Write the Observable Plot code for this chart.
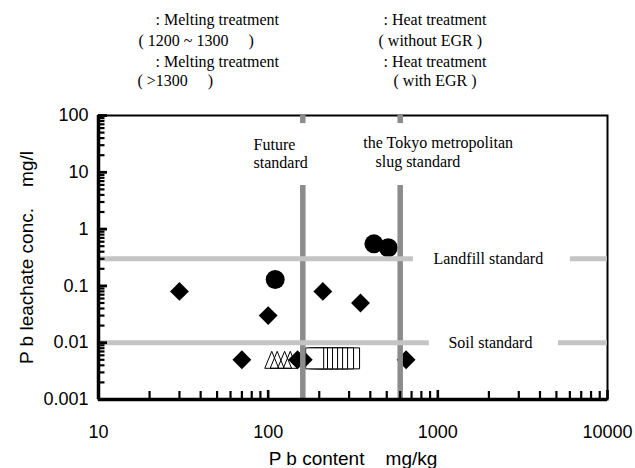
<!DOCTYPE html>
<html>
<head>
<meta charset="utf-8">
<script src="https://cdn.jsdelivr.net/npm/d3@7"></script>
<script src="https://cdn.jsdelivr.net/npm/@observablehq/plot@0.6"></script>
<style>
  html, body { margin: 0; padding: 0; background: #fff; }
  svg { display: block; }
</style>
</head>
<body>
<div id="chart"></div>
<script>
// ---- data ----
const diamondX = [30, 100, 70, 210, 350, 650, 149, 161];
const diamondY = [0.08, 0.03, 0.005, 0.08, 0.05, 0.005, 0.005, 0.005];
const circleX = [110, 420, 510];
const circleY = [0.13, 0.55, 0.47];
const triangleX = [105, 113, 125, 135];
const triangleY = [0.005, 0.005, 0.005, 0.005];
const squareX = [188, 198, 212, 227, 243, 260, 282, 306];
const squareY = [0.0053, 0.0053, 0.0053, 0.0053, 0.0053, 0.0053, 0.0053, 0.0053];

// standards
const futureStd = 160;
const tokyoStd = 600;
const landfillStd = 0.3;
const soilStd = 0.01;

// tick values and labels
const xMajor = [10, 100, 1000, 10000];
const xLabels = ["10", "100", "1000", "10000"];
const yMajor = [0.001, 0.01, 0.1, 1, 10, 100];
const yLabels = ["0.001", "0.01", "0.1", "1", "10", "100"];
const minorOf = (decades) => decades.flatMap(d => [2,3,4,5,6,7,8,9].map(k => +(k * d).toPrecision(3)));
const xMinor = minorOf([10, 100, 1000]);
const yMinor = minorOf([0.001, 0.01, 0.1, 1, 10]);

// texts
const xTitle = "P b content\u00a0\u00a0\u00a0\u00a0mg/kg";
const yTitle = "P b leachate conc.\u00a0\u00a0\u00a0\u00a0mg/l";
const legendTexts = [
  ": Melting treatment", "( 1200 ~ 1300\u00a0\u00a0\u00a0\u00a0\u00a0)",
  ": Melting treatment", "( >1300\u00a0\u00a0\u00a0\u00a0\u00a0)",
  ": Heat treatment", "( without EGR )",
  ": Heat treatment", "( with EGR )"
];
const annotationTexts = ["Future", "standard", "the Tokyo metropolitan", "slug standard", "Landfill standard", "Soil standard"];

// ---- layout (positions kept apart from the data) ----
const W = 635, H = 468;
const M = {top: 115, right: 28, bottom: 69, left: 98};
const xDomain = [10, 10000], yDomain = [0.001, 100];
const legendPos = [
  [155, 19], [138, 40], [155, 61], [137, 80],
  [383, 19], [378, 40], [383, 61], [393, 80]
];
const annotationPos = [
  [82, 30.9], [82, 14.9], [364, 33.5], [429, 15.5], [942, landfillStd], [1155, soilStd]
];
// gaps left in the standard lines for their labels
const vSegs = [
  {x: futureStd, y1: 0.001, y2: 5.86}, {x: futureStd, y1: 72, y2: 100},
  {x: tokyoStd, y1: 0.001, y2: 5.86}, {x: tokyoStd, y1: 72, y2: 100}
];
const hSegs = [
  {y: landfillStd, x1: 10, x2: 718}, {y: landfillStd, x1: 6040, x2: 10000},
  {y: soilStd, x1: 10, x2: 891}, {y: soilStd, x1: 5140, x2: 10000}
];

// standalone copies of the plot's scales, used to give the inward ticks a fixed pixel length
const xs = Plot.scale({x: {type: "log", domain: xDomain, range: [M.left, W - M.right]}});
const ys = Plot.scale({y: {type: "log", domain: yDomain, range: [H - M.bottom, M.top]}});
const yTickEnd = (px) => xs.invert(M.left + px);
const xTickEnd = (px) => ys.invert(H - M.bottom - px);

const zip = (xa, ya) => xa.map((x, i) => ({x, y: ya[i]}));
const diamonds = zip(diamondX, diamondY);
const circles = zip(circleX, circleY);
const triangles = zip(triangleX, triangleY);
const squares = zip(squareX, squareY).reverse();

const triSym = {draw(ctx) { ctx.moveTo(0, -8.5); ctx.lineTo(7, 8.5); ctx.lineTo(-7, 8.5); ctx.closePath(); }};
const rectSym = {draw(ctx) { ctx.rect(-9, -10.5, 18, 21); }};

const SERIF = "'Liberation Serif', 'Times New Roman', serif";
const SANS = "'Liberation Sans', Arial, sans-serif";

const legendMarks = legendTexts.map((t, i) => Plot.text([t], {
  frameAnchor: "top-left", dx: legendPos[i][0] - M.left, dy: legendPos[i][1] - M.top,
  textAnchor: "start", lineAnchor: "middle", fontFamily: SERIF, fontSize: 16, fill: "black"
}));

const chart = Plot.plot({
  width: W, height: H,
  marginTop: M.top, marginRight: M.right, marginBottom: M.bottom, marginLeft: M.left,
  style: {fontFamily: SANS, fontSize: "18px", color: "black", background: "white", overflow: "visible"},
  x: {type: "log", domain: xDomain},
  y: {type: "log", domain: yDomain},
  marks: [
    Plot.frame({stroke: "black", strokeWidth: 2}),
    // tick labels
    Plot.axisY(yMajor, {tickSize: 0, tickPadding: 10, tickFormat: d => yLabels[yMajor.indexOf(d)], fontSize: 18, label: null}),
    Plot.axisX(xMajor, {tickSize: 0, tickPadding: 26, tickFormat: d => xLabels[xMajor.indexOf(d)], fontSize: 18, label: null}),
    // data
    Plot.dot(squares, {x: "x", y: "y", symbol: rectSym, fill: "white", stroke: "black", strokeWidth: 1}),
    Plot.dot(triangles, {x: "x", y: "y", symbol: triSym, fill: "none", stroke: "black", strokeWidth: 1}),
    Plot.dot(diamonds, {x: "x", y: "y", symbol: "diamond2", r: 8.5, fill: "black", stroke: "none"}),
    Plot.dot(circles, {x: "x", y: "y", symbol: "circle", r: 9.5, fill: "black", stroke: "none"}),
    // standard lines
    Plot.ruleX(vSegs, {x: "x", y1: "y1", y2: "y2", stroke: "#8c8c8c", strokeWidth: 5.5}),
    Plot.ruleY(hSegs, {y: "y", x1: "x1", x2: "x2", stroke: "#c4c4c4", strokeWidth: 5}),
    // annotations
    Plot.text(annotationTexts, {
      x: (d, i) => annotationPos[i][0], y: (d, i) => annotationPos[i][1], text: d => d,
      textAnchor: "start", lineAnchor: "middle", fontFamily: SERIF, fontSize: 16, fill: "black"
    }),
    // axis titles
    Plot.text([xTitle], {frameAnchor: "bottom", dy: 59, textAnchor: "middle", lineAnchor: "middle", fontSize: 19, fill: "black"}),
    Plot.text([yTitle], {frameAnchor: "left", dx: -72, rotate: -90, textAnchor: "middle", lineAnchor: "middle", fontSize: 19, fill: "black"}),
    ...legendMarks,
    // thick left/bottom axis lines and inward tick marks, drawn last
    Plot.ruleX([xDomain[0]], {stroke: "black", strokeWidth: 3.5}),
    Plot.ruleY([yDomain[0]], {stroke: "black", strokeWidth: 3.5}),
    Plot.ruleY(yMinor, {y: d => d, x1: xDomain[0], x2: yTickEnd(6.5), stroke: "#000", strokeWidth: 2.2}),
    Plot.ruleY(yMajor, {y: d => d, x1: xDomain[0], x2: yTickEnd(9), stroke: "#000", strokeWidth: 2.8}),
    Plot.ruleX(xMinor, {x: d => d, y1: yDomain[0], y2: xTickEnd(8), stroke: "#000", strokeWidth: 2.2}),
    Plot.ruleX(xMajor, {x: d => d, y1: yDomain[0], y2: xTickEnd(9), stroke: "#000", strokeWidth: 2.6})
  ]
});
document.getElementById("chart").appendChild(chart);
</script>
</body>
</html>
